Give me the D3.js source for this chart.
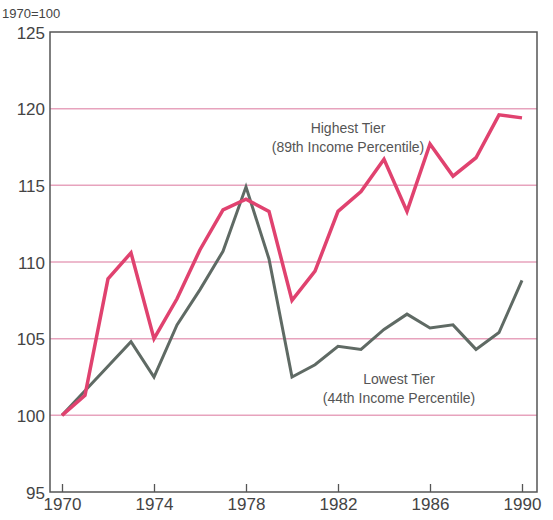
<!DOCTYPE html>
<html>
<head>
<meta charset="utf-8">
<script src="https://cdn.jsdelivr.net/npm/d3@7"></script>
<style>
body{margin:0;background:#fff}
svg{display:block}
</style>
</head>
<body>
<div id="chart"></div>
<script>
var years = d3.range(1970, 1991)
var highest = [100, 101.3, 108.9, 110.6, 105.0, 107.6, 110.8, 113.4, 114.1, 113.3,
	107.5, 109.4, 113.3, 114.6, 116.7, 113.3, 117.7, 115.6, 116.8, 119.6, 119.4]
var lowest = [100, 101.6, 103.2, 104.8, 102.5, 105.9, 108.2, 110.7, 114.9, 110.2,
	102.5, 103.3, 104.5, 104.3, 105.6, 106.6, 105.7, 105.9, 104.3, 105.4, 108.8]
var yTicks = [95, 100, 105, 110, 115, 120, 125]
var xTicks = [1970, 1974, 1978, 1982, 1986, 1990]

var W = 553, H = 520
var box = {left: 50, right: 537, top: 32, bottom: 492}

var svg = d3.select('#chart').append('svg')
	.attr('width', W)
	.attr('height', H)

var x = d3.scaleLinear().domain([1970, 1990]).range([62, 522])
var y = d3.scaleLinear().domain([95, 125]).range([box.bottom, box.top])

var font = 'Liberation Sans, Arial, sans-serif'

// grid lines (pink)
svg.append('g').selectAll('line')
	.data(yTicks.filter(function(d){return d > 95 && d < 125}))
	.enter().append('line')
	.attr('x1', box.left).attr('x2', box.right)
	.attr('y1', function(d){return y(d)})
	.attr('y2', function(d){return y(d)})
	.style('stroke', '#e7a3bd')
	.style('stroke-width', 1.5)

// frame
svg.append('rect')
	.attr('x', box.left).attr('y', box.top)
	.attr('width', box.right - box.left)
	.attr('height', box.bottom - box.top)
	.style('fill', 'none')
	.style('stroke', '#555')
	.style('stroke-width', 1.5)

// y axis labels
var yAxis = svg.append('g')
	.attr('transform', 'translate(' + box.left + ',0)')
	.call(d3.axisLeft(y).tickValues(yTicks).tickSize(0).tickPadding(5))
yAxis.select('.domain').remove()
yAxis.selectAll('text')
	.attr('dy', '0.36em')
	.style('font-family', font)
	.style('font-size', '17px')
	.style('fill', '#444')

// x axis: ticks point up into the plot
var xAxis = svg.append('g')
	.attr('transform', 'translate(0,' + box.bottom + ')')
	.call(d3.axisBottom(x).tickValues(xTicks).tickFormat(d3.format('d')).tickSize(-8).tickPadding(3))
xAxis.select('.domain').remove()
xAxis.selectAll('line').style('stroke', '#555').style('stroke-width', 1.3)
xAxis.selectAll('text')
	.attr('dy', '0.9em')
	.style('font-family', font)
	.style('font-size', '17px')
	.style('fill', '#444')

svg.append('text')
	.attr('x', 2).attr('y', 18)
	.text('1970=100')
	.style('font-family', font)
	.style('font-size', '13px')
	.style('fill', '#444')

var line = d3.line()
	.x(function(d, i){return x(years[i])})
	.y(function(d){return y(d)})

svg.append('path')
	.datum(lowest)
	.attr('d', line)
	.style('fill', 'none')
	.style('stroke', '#5f6a64')
	.style('stroke-width', 3)
	.style('stroke-linejoin', 'miter')

svg.append('path')
	.datum(highest)
	.attr('d', line)
	.style('fill', 'none')
	.style('stroke', '#e0426f')
	.style('stroke-width', 3.5)
	.style('stroke-linejoin', 'miter')

function label(cx, cy, lines){
	lines.forEach(function(t, i){
		svg.append('text')
			.attr('x', cx).attr('y', cy + i * 19)
			.attr('text-anchor', 'middle')
			.text(t)
			.style('font-family', font)
			.style('font-size', '14px')
			.style('fill', '#555')
	})
}
label(348, 133, ['Highest Tier', '(89th Income Percentile)'])
label(399, 384, ['Lowest Tier', '(44th Income Percentile)'])
</script>
</body>
</html>
